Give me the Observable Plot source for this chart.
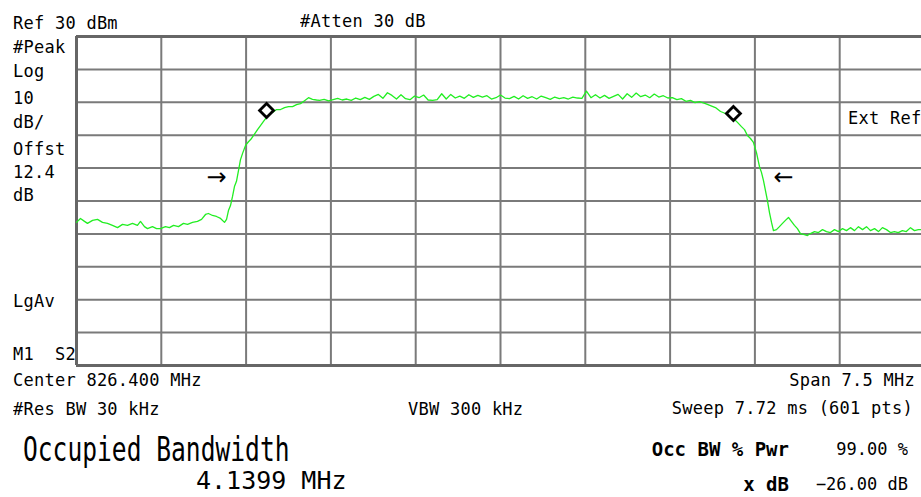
<!DOCTYPE html>
<html><head><meta charset="utf-8">
<script src="https://cdn.jsdelivr.net/npm/d3@7"></script>
<script src="https://cdn.jsdelivr.net/npm/@observablehq/plot@0.6"></script>
<style>
html,body{margin:0;padding:0;background:#fff;overflow:hidden;}
#wrap{position:relative;width:921px;height:497px;overflow:hidden;background:#fff;}
#wrap svg{position:absolute;left:0;top:0;}
.t{position:absolute;font-family:"DejaVu Sans Mono",monospace;color:#000;line-height:1;white-space:pre;transform-origin:0 0;}
</style></head><body><div id="wrap"></div>
<script>
// ---- Data ----
const freqMHz = [
822.650,822.685,822.721,822.747,822.792,822.836,822.880,822.924,822.968,823.013,
823.057,823.101,823.145,823.189,823.216,823.251,823.278,823.322,823.358,823.393,
823.437,823.472,823.508,823.552,823.596,823.632,823.676,823.720,823.756,823.791,
823.817,823.853,823.888,823.924,823.959,823.977,823.994,824.012,824.030,824.047,
824.065,824.083,824.100,824.118,824.145,824.171,824.198,824.224,824.251,824.277,
824.304,824.331,824.357,824.384,824.419,824.455,824.490,824.525,824.561,824.596,
824.631,824.667,824.702,824.737,824.773,
824.80,824.84,824.88,824.92,824.96,825.00,825.04,825.08,825.12,825.16,
825.20,825.24,825.28,825.32,825.36,825.40,825.44,825.48,825.52,825.56,
825.60,825.64,825.68,825.72,825.76,825.80,825.84,825.88,825.92,825.96,
826.00,826.04,826.08,826.12,826.16,826.20,826.24,826.28,826.32,826.36,
826.40,826.44,826.48,826.52,826.56,826.60,826.64,826.68,826.72,826.76,
826.80,826.84,826.88,826.92,826.96,827.00,827.04,827.08,827.12,827.16,
827.20,827.24,827.28,827.32,827.36,827.40,827.44,827.48,827.52,827.56,
827.60,827.64,827.68,827.72,827.76,827.80,827.84,827.88,827.92,827.96,
828.00,828.04,828.08,828.12,828.16,
828.213,828.257,828.301,828.346,828.390,828.434,828.460,828.496,828.531,828.558,
828.584,828.611,828.637,828.664,828.690,828.708,828.726,828.743,828.761,828.779,
828.797,828.814,828.841,828.867,828.894,828.920,828.947,828.973,829.000,829.026,
829.053,829.088,829.115,829.141,829.177,829.212,829.248,829.283,829.318,829.354,
829.389,829.425,829.460,829.495,829.531,829.566,829.602,829.637,829.672,829.708,
829.743,829.778,829.814,829.849,829.884,829.918,829.954,829.989,830.026,830.061,
830.096,830.150];
const levelDbm = [
-26.5,-25.3,-26.2,-26.8,-25.9,-25.6,-26.5,-26.8,-27.4,-28.1,
-27.1,-27.4,-26.8,-27.4,-26.2,-27.8,-28.4,-27.8,-28.4,-28.4,
-27.8,-28.1,-27.4,-27.8,-26.8,-27.1,-26.5,-26.2,-25.6,-24.1,
-23.8,-24.4,-24.7,-25.3,-26.5,-25.6,-22.9,-21.4,-18.6,-15.6,
-14.0,-10.7,-7.5,-5.6,-3.1,-2.0,-1.0,0.3,1.7,2.9,
4.2,5.4,6.6,6.9,7.8,7.8,8.4,8.7,8.7,9.3,
9.6,10.5,11.4,10.9,10.7,
10.6,10.9,10.4,10.8,11.2,10.7,11.0,10.6,11.3,10.8,
11.5,10.9,11.8,12.4,11.2,12.9,12.1,11.0,12.3,11.1,
10.8,11.9,11.4,12.2,10.7,10.6,10.8,12.6,11.0,12.4,
11.3,11.9,11.2,12.3,11.5,12.1,11.6,12.0,11.0,11.4,
12.2,11.3,11.1,11.8,11.0,12.0,11.2,11.7,11.0,11.9,
11.4,10.9,11.6,11.1,11.4,11.0,11.6,11.3,11.2,13.4,
11.4,12.3,11.3,12.1,11.2,11.8,12.4,11.0,12.6,11.5,
12.8,11.7,12.2,11.4,12.5,11.6,12.0,11.3,11.4,10.8,
11.1,10.3,10.6,9.9,10.2,
9.6,9.0,8.4,7.2,6.6,6.0,5.1,3.9,2.6,1.7,
-0.1,-1.0,-2.2,-5.3,-9.5,-11.3,-13.8,-16.8,-19.9,-23.5,
-26.5,-29.0,-28.7,-27.8,-26.8,-25.9,-25.0,-26.2,-27.4,-28.4,
-29.9,-30.2,-30.5,-29.9,-29.3,-29.6,-28.7,-29.3,-29.6,-28.7,
-29.3,-28.4,-29.0,-28.1,-29.0,-27.8,-28.7,-27.8,-29.0,-28.4,
-29.3,-28.1,-28.7,-29.6,-29.3,-29.6,-29.0,-29.3,-28.1,-29.0,
-28.7,-28.7];

// OBW markers (diamonds) and x dB arrows
const markerFreq = [824.331, 828.460];
const markerLevel = [7.5, 6.6];
const arrowFreq = [823.888, 828.903];
const arrowLevel = [-12.9, -12.9];
const arrowGlyph = ["→", "←"];

// grid ticks (10 div x 0.75 MHz, 10 div x 10 dB)
const xGrid = [823.40,824.15,824.90,825.65,826.40,827.15,827.90,828.65,829.40];
const yGrid = [20,10,0,-10,-20,-30,-40,-50,-60];
const xStart = 822.65, xSpanEnd = 830.15, yTop = 30, yBottom = -70;

// texts
const headerLeft = "Ref 30 dBm";
const headerMid = "#Atten 30 dB";
const sideLabels = ["#Peak","Log","10","dB/","Offst","12.4","dB"];
const sideLower = ["LgAv","M1  S2"];
const extRef = "Ext Ref";
const footLeft = ["Center 826.400 MHz","#Res BW 30 kHz"];
const footMid = "VBW 300 kHz";
const footRight = ["Span 7.5 MHz","Sweep 7.72 ms (601 pts)"];
const obwTitle = "Occupied Bandwidth";
const obwValue = "4.1399 MHz";
const resLabels = ["Occ BW % Pwr","x dB"];
const resValues = ["99.00 %","−26.00 dB"];

// ---- Build ----
const trace = freqMHz.map((f, i) => ({f, L: levelDbm[i]}));
const markers = markerFreq.map((f, i) => ({f, L: markerLevel[i]}));
const arrows = arrowFreq.map((f, i) => ({f, L: arrowLevel[i], g: arrowGlyph[i]}));

const W = 921, H = 497, mL = 76, mT = 36, mB = 132;
// right edge of the 10-division grid falls at 924px, just beyond the window
const xEnd = xStart + (xSpanEnd - xStart) * (W - mL) / (924 - mL);

const chart = Plot.plot({
  width: W, height: H,
  marginLeft: mL, marginRight: 0, marginTop: mT, marginBottom: mB,
  x: {domain: [xStart, xEnd], axis: null},
  y: {domain: [yBottom, yTop], axis: null},
  style: {background: "transparent"},
  marks: [
    Plot.ruleX(xGrid, {stroke: "#7a7a7a", strokeWidth: 2, strokeOpacity: 1}),
    Plot.ruleY(yGrid, {stroke: "#7a7a7a", strokeWidth: 2, strokeOpacity: 1}),
    Plot.ruleX([xStart], {stroke: "#666", strokeWidth: 3, strokeOpacity: 1}),
    Plot.ruleY([yTop, yBottom], {stroke: "#666", strokeWidth: 3, strokeOpacity: 1}),
    Plot.line(trace, {x: "f", y: "L", stroke: "#22ee22", strokeWidth: 1.3, clip: true}),
    Plot.dot(markers, {x: "f", y: "L", symbol: "diamond2", r: 6.3, stroke: "#000", strokeWidth: 2.8, fill: "#fff"}),
    Plot.text(arrows, {x: "f", y: "L", text: "g", fontSize: 24, fill: "#000", fontFamily: "DejaVu Sans"})
  ]
});
const wrap = document.getElementById("wrap");
wrap.appendChild(chart);

function place(text, o) {
  const s = o.size || 17, sy = o.sy || 1.05;
  const d = document.createElement("div");
  d.className = "t";
  d.textContent = text;
  d.style.fontSize = s + "px";
  d.style.letterSpacing = (o.ls != null ? o.ls : 0.25) + "px";
  if (o.bold) d.style.fontWeight = "bold";
  d.style.transform = "scaleY(" + sy + ")";
  d.style.top = (o.cap - 0.117 * s * sy) + "px";
  if (o.anchor === "end") d.style.right = (W - o.x) + "px";
  else d.style.left = o.x + "px";
  wrap.appendChild(d);
}
place(headerLeft, {x: 13, cap: 16});
place(headerMid, {x: 300, cap: 14});
const sideCaps = [40, 64, 91, 115, 142, 165, 188];
sideLabels.forEach((t, i) => place(t, {x: 13, cap: sideCaps[i]}));
place(sideLower[0], {x: 13, cap: 294});
place(sideLower[1], {x: 13, cap: 347});
place(extRef, {x: 848, cap: 111});
place(footLeft[0], {x: 13, cap: 373});
place(footLeft[1], {x: 13, cap: 402});
place(footMid, {x: 408, cap: 402});
place(footRight[0], {x: 915, cap: 373, anchor: "end"});
place(footRight[1], {x: 913, cap: 401, anchor: "end"});
place(obwTitle, {x: 23, cap: 437, size: 24.6, sy: 1.4, ls: 0});
place(obwValue, {x: 196, cap: 471, size: 25, sy: 1.0, ls: 0});
place(resLabels[0], {x: 789, cap: 442, size: 19, sy: 1.0, ls: 0, bold: true, anchor: "end"});
place(resLabels[1], {x: 789, cap: 477, size: 19, sy: 1.0, ls: 0, bold: true, anchor: "end"});
place(resValues[0], {x: 908, cap: 442, size: 17, sy: 1.05, ls: 0, anchor: "end"});
place(resValues[1], {x: 908, cap: 477, size: 17, sy: 1.05, ls: 0, anchor: "end"});
</script></body></html>
